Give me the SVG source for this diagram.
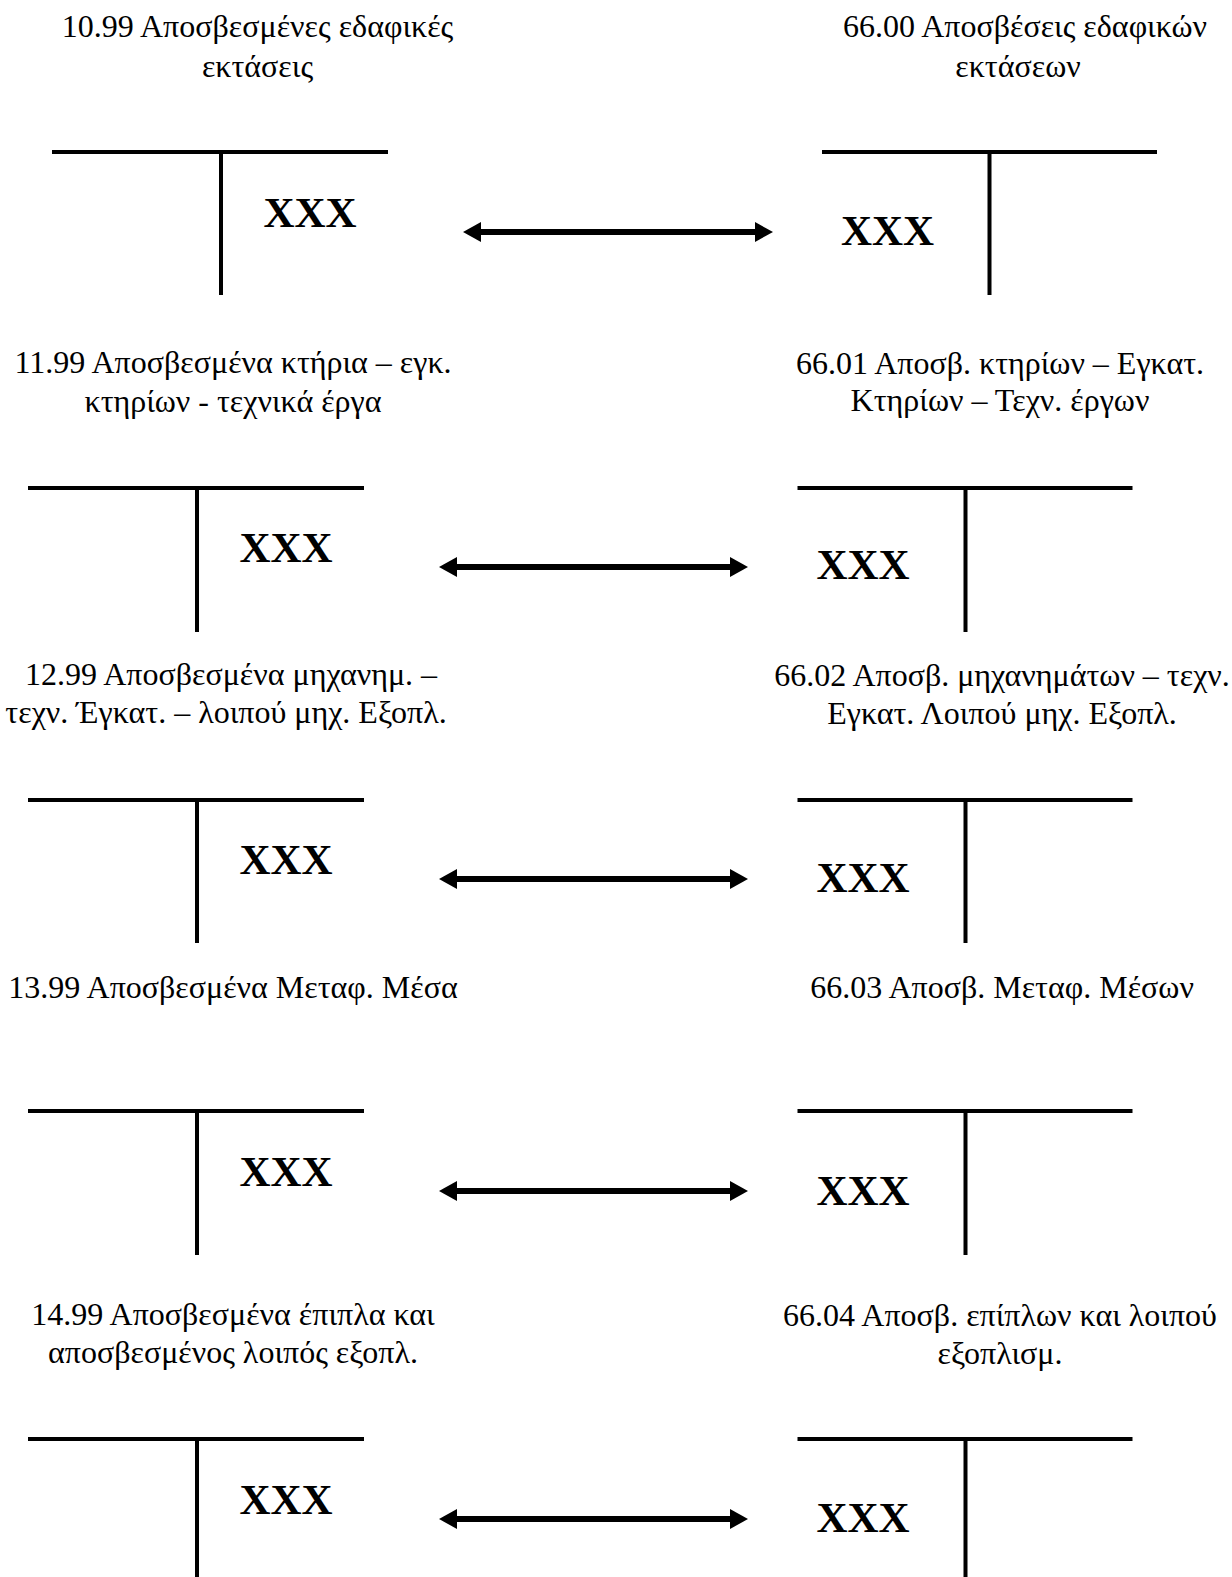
<svg xmlns="http://www.w3.org/2000/svg" width="1232" height="1577" viewBox="0 0 1232 1577">
  <style>
    .title { font-family: "Liberation Serif", "Times New Roman", serif; font-size: 32px; fill: #000; text-anchor: middle; }
    .amt { font-family: "Liberation Serif", "Times New Roman", serif; font-size: 43px; font-weight: bold; fill: #000; }
    .t { stroke: #000; stroke-width: 4; fill: none; }
    .link { stroke: #000; stroke-width: 6; fill: none; marker-start: url(#head); marker-end: url(#head); }
  </style>
  <defs>
    <marker id="head" viewBox="0 0 18 20" refX="8" refY="10" markerWidth="18" markerHeight="20" markerUnits="userSpaceOnUse" orient="auto-start-reverse">
      <path d="M0,0 L18,10 L0,20 Z" fill="#000"/>
    </marker>
  </defs>

  <rect width="1232" height="1577" fill="#fff"/>

  <!-- Row 1: 10.99 / 66.00 -->
  <g id="acc-1099">
    <text class="title" x="257.5" y="37">10.99 Αποσβεσμένες εδαφικές</text>
    <text class="title" x="257.5" y="77">εκτάσεις</text>
    <line class="t" x1="52" y1="152" x2="388" y2="152"/>
    <line class="t" x1="221" y1="152" x2="221" y2="295"/>
    <text class="amt" x="263.5" y="227">XXX</text>
  </g>
  <g id="acc-6600">
    <text class="title" x="1025" y="37">66.00 Αποσβέσεις εδαφικών</text>
    <text class="title" x="1018" y="77">εκτάσεων</text>
    <line class="t" x1="822" y1="152" x2="1157" y2="152"/>
    <line class="t" x1="989.5" y1="152" x2="989.5" y2="295"/>
    <text class="amt" x="841" y="245">XXX</text>
  </g>

  <!-- Row 2: 11.99 / 66.01 -->
  <g id="acc-1199">
    <text class="title" x="233" y="373">11.99 Αποσβεσμένα κτήρια – εγκ.</text>
    <text class="title" x="233" y="412">κτηρίων - τεχνικά έργα</text>
    <line class="t" x1="28" y1="488" x2="364" y2="488"/>
    <line class="t" x1="197" y1="488" x2="197" y2="632"/>
    <text class="amt" x="239.5" y="562">XXX</text>
  </g>
  <g id="acc-6601">
    <text class="title" x="1000" y="374">66.01 Αποσβ. κτηρίων – Εγκατ.</text>
    <text class="title" x="1000" y="411">Κτηρίων – Τεχν. έργων</text>
    <line class="t" x1="797.5" y1="488" x2="1132.5" y2="488"/>
    <line class="t" x1="965.5" y1="488" x2="965.5" y2="632"/>
    <text class="amt" x="816.5" y="579">XXX</text>
  </g>

  <!-- Row 3: 12.99 / 66.02 -->
  <g id="acc-1299">
    <text class="title" x="231" y="685">12.99 Αποσβεσμένα μηχανημ. –</text>
    <text class="title" x="226" y="723">τεχν. Έγκατ. – λοιπού μηχ. Εξοπλ.</text>
    <line class="t" x1="28" y1="800" x2="364" y2="800"/>
    <line class="t" x1="197" y1="800" x2="197" y2="943"/>
    <text class="amt" x="239.5" y="874">XXX</text>
  </g>
  <g id="acc-6602">
    <text class="title" x="1002" y="686">66.02 Αποσβ. μηχανημάτων – τεχν.</text>
    <text class="title" x="1002" y="724">Εγκατ. Λοιπού μηχ. Εξοπλ.</text>
    <line class="t" x1="797.5" y1="800" x2="1132.5" y2="800"/>
    <line class="t" x1="965.5" y1="800" x2="965.5" y2="943"/>
    <text class="amt" x="816.5" y="892">XXX</text>
  </g>

  <!-- Row 4: 13.99 / 66.03 -->
  <g id="acc-1399">
    <text class="title" x="233" y="998">13.99 Αποσβεσμένα Μεταφ. Μέσα</text>
    <line class="t" x1="28" y1="1111" x2="364" y2="1111"/>
    <line class="t" x1="197" y1="1111" x2="197" y2="1255"/>
    <text class="amt" x="239.5" y="1186">XXX</text>
  </g>
  <g id="acc-6603">
    <text class="title" x="1002" y="998">66.03 Αποσβ. Μεταφ. Μέσων</text>
    <line class="t" x1="797.5" y1="1111" x2="1132.5" y2="1111"/>
    <line class="t" x1="965.5" y1="1111" x2="965.5" y2="1255"/>
    <text class="amt" x="816.5" y="1205">XXX</text>
  </g>

  <!-- Row 5: 14.99 / 66.04 -->
  <g id="acc-1499">
    <text class="title" x="233" y="1325">14.99 Αποσβεσμένα έπιπλα και</text>
    <text class="title" x="233" y="1363">αποσβεσμένος λοιπός εξοπλ.</text>
    <line class="t" x1="28" y1="1439" x2="364" y2="1439"/>
    <line class="t" x1="197" y1="1439" x2="197" y2="1577"/>
    <text class="amt" x="239.5" y="1514">XXX</text>
  </g>
  <g id="acc-6604">
    <text class="title" x="1000" y="1326">66.04 Αποσβ. επίπλων και λοιπού</text>
    <text class="title" x="1000" y="1364">εξοπλισμ.</text>
    <line class="t" x1="797.5" y1="1439" x2="1132.5" y2="1439"/>
    <line class="t" x1="965.5" y1="1439" x2="965.5" y2="1577"/>
    <text class="amt" x="816.5" y="1532">XXX</text>
  </g>

  <!-- Two-way links between each pair of accounts -->
  <g id="connectors">
    <line class="link" x1="473" y1="232" x2="763" y2="232"/>
    <line class="link" x1="449" y1="567" x2="738" y2="567"/>
    <line class="link" x1="449" y1="879" x2="738" y2="879"/>
    <line class="link" x1="449" y1="1191" x2="738" y2="1191"/>
    <line class="link" x1="449" y1="1519" x2="738" y2="1519"/>
  </g>
</svg>
